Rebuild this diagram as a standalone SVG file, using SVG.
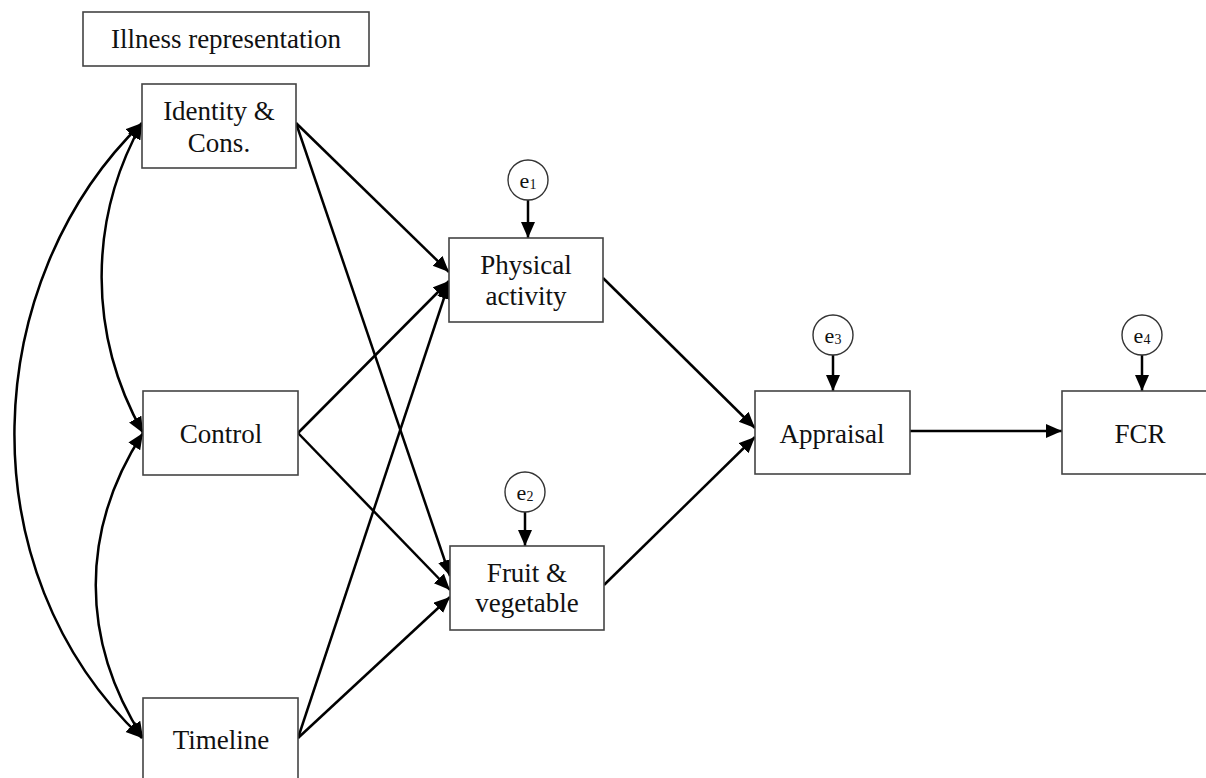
<svg xmlns="http://www.w3.org/2000/svg" width="1206" height="778" viewBox="0 0 1206 778">
  <style>
    .box { fill: #ffffff; stroke: #444444; stroke-width: 1.6; }
    .err { fill: #ffffff; stroke: #333333; stroke-width: 1.4; }
    .lbl { font-family: "Liberation Serif", "Times New Roman", serif; font-size: 27px; fill: #111111; text-anchor: middle; }
    .elbl { font-family: "Liberation Serif", "Times New Roman", serif; font-size: 22px; fill: #111111; text-anchor: middle; }
    .edge { fill: none; stroke: #000000; stroke-width: 2.5; marker-end: url(#arrow); }
    .cov { fill: none; stroke: #000000; stroke-width: 2.5; marker-start: url(#arrow); marker-end: url(#arrow); }
  </style>
  <defs>
    <marker id="arrow" markerUnits="userSpaceOnUse" markerWidth="18" markerHeight="16" refX="16" refY="7" orient="auto-start-reverse">
      <path d="M0,0 L16,7 L0,14 z" fill="#000000"/>
    </marker>
  </defs>

  <rect width="1206" height="778" fill="#ffffff"/>

  <!-- connectors -->
  <g id="connectors">
    <!-- correlations among the illness representation factors -->
    <path class="cov" d="M142,123 C-20,280 -36,570 142,738"/>
    <path class="cov" d="M142,123 C88,220 88,335 143,433"/>
    <path class="cov" d="M143,433 C80,530 80,640 143,738"/>
    <!-- paths to the behaviours -->
    <path class="edge" d="M296,123 L449,272"/>
    <path class="edge" d="M296,123 L450,576"/>
    <path class="edge" d="M298,433 L449,281"/>
    <path class="edge" d="M298,433 L450,590"/>
    <path class="edge" d="M298,738 L449,283"/>
    <path class="edge" d="M298,738 L450,597"/>
    <!-- behaviours to appraisal, appraisal to FCR -->
    <path class="edge" d="M603,278 L755,428"/>
    <path class="edge" d="M604,585 L755,437"/>
    <path class="edge" d="M910,431 L1062,431"/>
    <!-- residual terms -->
    <path class="edge" d="M528,200 L528,238"/>
    <path class="edge" d="M525,512 L525,546"/>
    <path class="edge" d="M833,355 L833,391"/>
    <path class="edge" d="M1142,355 L1142,391"/>
  </g>

  <g id="illness-representation">
    <rect class="box" x="83" y="12" width="286" height="54"/>
    <text class="lbl" x="226" y="48">Illness representation</text>
  </g>

  <g id="identity">
    <rect class="box" x="142" y="84" width="154" height="84"/>
    <text class="lbl" x="219" y="120">Identity &amp;</text>
    <text class="lbl" x="219" y="152">Cons.</text>
  </g>

  <g id="control">
    <rect class="box" x="143" y="391" width="155" height="84"/>
    <text class="lbl" x="221" y="443">Control</text>
  </g>

  <g id="timeline">
    <rect class="box" x="143" y="698" width="155" height="86"/>
    <text class="lbl" x="221" y="749">Timeline</text>
  </g>

  <g id="physical-activity">
    <rect class="box" x="449" y="238" width="154" height="84"/>
    <text class="lbl" x="526" y="274">Physical</text>
    <text class="lbl" x="526" y="305">activity</text>
  </g>

  <g id="fruit-vegetable">
    <rect class="box" x="450" y="546" width="154" height="84"/>
    <text class="lbl" x="527" y="582">Fruit &amp;</text>
    <text class="lbl" x="527" y="612">vegetable</text>
  </g>

  <g id="appraisal">
    <rect class="box" x="755" y="391" width="155" height="83"/>
    <text class="lbl" x="832" y="443">Appraisal</text>
  </g>

  <g id="fcr">
    <rect class="box" x="1062" y="391" width="155" height="83"/>
    <text class="lbl" x="1140" y="443">FCR</text>
  </g>

  <g id="e1">
    <circle class="err" cx="528" cy="180" r="20"/>
    <text class="elbl" x="528" y="188">e<tspan font-size="14" dy="1">1</tspan></text>
  </g>

  <g id="e2">
    <circle class="err" cx="525" cy="492" r="20"/>
    <text class="elbl" x="525" y="500">e<tspan font-size="14" dy="1">2</tspan></text>
  </g>

  <g id="e3">
    <circle class="err" cx="833" cy="335" r="20"/>
    <text class="elbl" x="833" y="343">e<tspan font-size="14" dy="1">3</tspan></text>
  </g>

  <g id="e4">
    <circle class="err" cx="1142" cy="335" r="20"/>
    <text class="elbl" x="1142" y="343">e<tspan font-size="14" dy="1">4</tspan></text>
  </g>
</svg>
